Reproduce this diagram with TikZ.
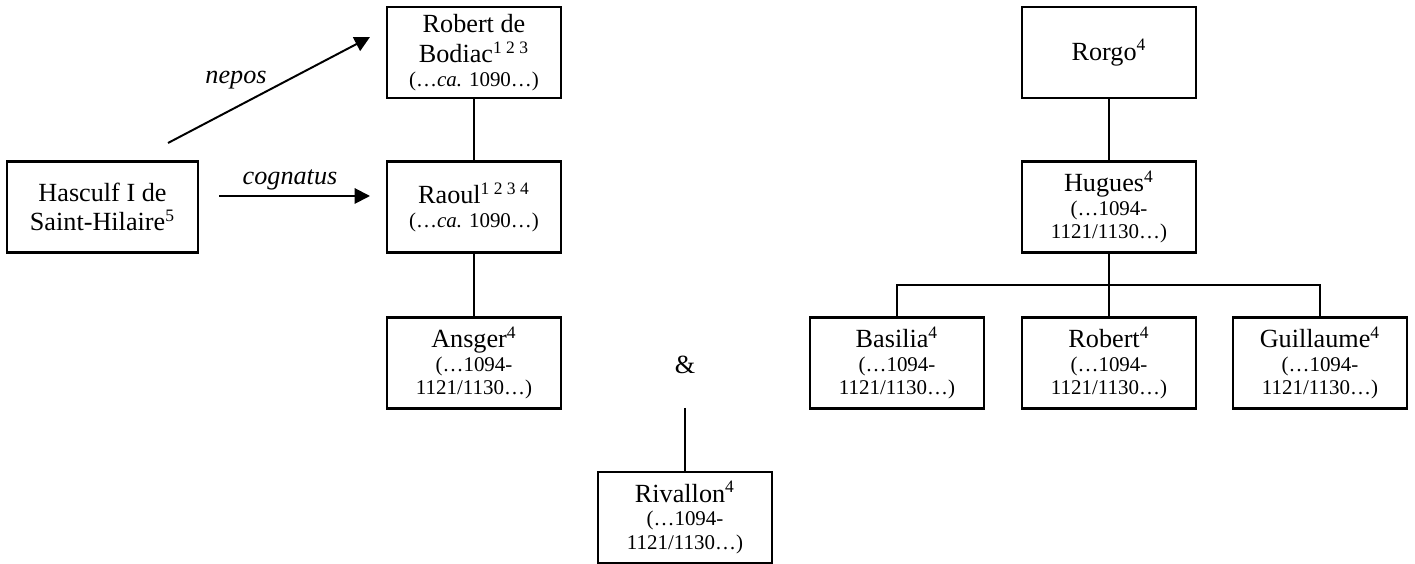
\documentclass[tikz,border=0pt]{standalone}
\usepackage{fontspec}
\setmainfont{Liberation Serif}
\usepackage{tikz}
\usetikzlibrary{arrows.meta}
\newcommand{\namesize}{\fontsize{12}{13.5}\selectfont}
\newcommand{\datesize}{\fontsize{9.6}{10.8}\selectfont}
\tikzset{person/.style={draw,line width=1pt,minimum width=80pt,minimum height=41.7pt,inner sep=0pt,align=center,font=\datesize},
	link/.style={line width=1pt},
	rel/.style={line width=0.9pt,-{Triangle[length=7pt,width=7pt]}}}

\begin{document}
\begin{tikzpicture}[x=0.458pt,y=-0.458pt]
	\useasboundingbox (0,0) rectangle (1415,564);
	% Bodiac side
	\node[person] (bodiac) at (474,52.5) {{\namesize Robert de}\\[3pt]{\namesize Bodiac\textsuperscript{1 2 3}}\\(…\textit{ca.} 1090…)};
	\node[person] (raoul) at (474,207) {{\namesize Raoul\textsuperscript{1 2 3 4}}\\(…\textit{ca.} 1090…)};
	\node[person] (ansger) at (474,363) {{\namesize Ansger\textsuperscript{4}}\\(…1094-\\1121/1130…)};
	\node[person,minimum width=87.5pt,font=\namesize] (hasculf) at (102.5,207) {Hasculf I de\\Saint-Hilaire\textsuperscript{5}};
	\draw[link] (bodiac) -- (raoul);
	\draw[link] (raoul) -- (ansger);
	\coordinate (neposA) at (168,143); \coordinate (neposB) at (370,37);
	\coordinate (cognA) at (219,196); \coordinate (cognB) at (370,196);
	\draw[rel] (neposA) -- (neposB);
	\draw[rel] (cognA) -- (cognB);
	\node[font=\namesize\itshape] (neposlbl) at (236,80) {nepos};
	\node[font=\namesize\itshape] (cognlbl) at (290,180) {cognatus};
	% Rivallon
	\node[font=\namesize] (amp) at (685,365) {\&};
	\node[person] (rivallon) at (685,517.5) {{\namesize Rivallon\textsuperscript{4}}\\(…1094-\\1121/1130…)};
	\coordinate (ampfoot) at (685,408);
	\draw[link] (ampfoot) -- (rivallon.north);
	% Rorgo side
	\node[person,font=\namesize] (rorgo) at (1109,52.5) {Rorgo\textsuperscript{4}};
	\node[person] (hugues) at (1109,207) {{\namesize Hugues\textsuperscript{4}}\\(…1094-\\1121/1130…)};
	\node[person] (basilia) at (897,363) {{\namesize Basilia\textsuperscript{4}}\\(…1094-\\1121/1130…)};
	\node[person] (robert) at (1109,363) {{\namesize Robert\textsuperscript{4}}\\(…1094-\\1121/1130…)};
	\node[person] (guillaume) at (1320,363) {{\namesize Guillaume\textsuperscript{4}}\\(…1094-\\1121/1130…)};
	\coordinate (bus) at (1109,285);
	\draw[link] (rorgo) -- (hugues);
	\draw[link] (hugues) -- (robert);
	\draw[link] (basilia.north) |- (bus) -| (guillaume.north);
\end{tikzpicture}
\end{document}
